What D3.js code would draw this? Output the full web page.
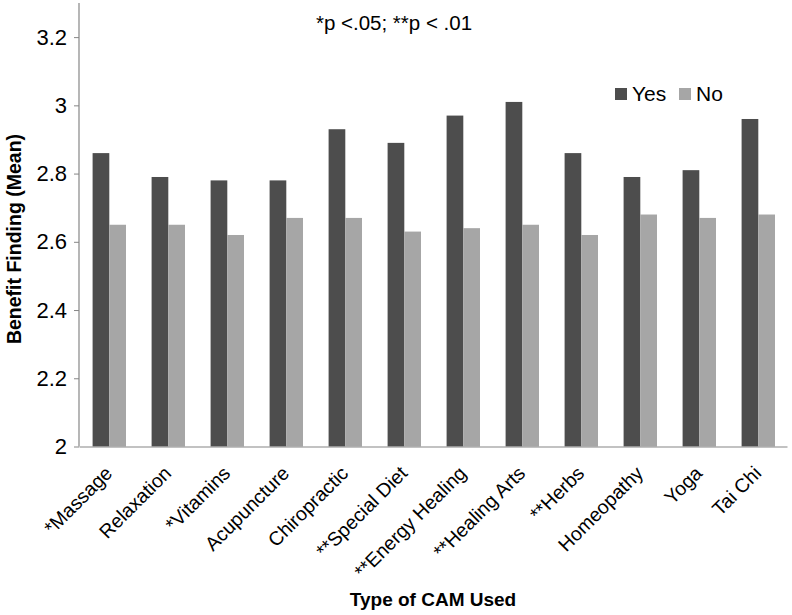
<!DOCTYPE html>
<html>
<head>
<meta charset="utf-8">
<script src="https://cdn.jsdelivr.net/npm/d3@7/dist/d3.min.js"></script>
<style>
  body { margin: 0; background: #fff; }
  svg { display: block; font-family: "Liberation Sans", Arial, sans-serif; }
</style>
</head>
<body>
<svg id="chart" width="792" height="615"></svg>
<script>
const categories = ["*Massage", "Relaxation", "*Vitamins", "Acupuncture", "Chiropractic", "**Special Diet", "**Energy Healing", "**Healing Arts", "**Herbs", "Homeopathy", "Yoga", "Tai Chi"];
const seriesNames = ["Yes", "No"];
const yesValues = [2.86, 2.79, 2.78, 2.78, 2.93, 2.89, 2.97, 3.01, 2.86, 2.79, 2.81, 2.96];
const noValues  = [2.65, 2.65, 2.62, 2.67, 2.67, 2.63, 2.64, 2.65, 2.62, 2.68, 2.67, 2.68];
const yTicks = [2, 2.2, 2.4, 2.6, 2.8, 3, 3.2];
const colors = ["#4d4d4d", "#a6a6a6"];

const svg = d3.select("#chart");
const margin = { left: 79, right: 5, top: 3, bottom: 168.5 };
const W = 792, H = 615;
const x0 = margin.left, x1 = W - margin.right;
const yTop = margin.top, yBot = H - margin.bottom;

const x = d3.scaleBand().domain(categories).range([x0, x1]).paddingInner(0).paddingOuter(0);
const y = d3.scaleLinear().domain([2, 3.3]).range([yBot, yTop]);

const data = categories.map((c, i) => ({ cat: c, values: [yesValues[i], noValues[i]] }));
const barW = x.bandwidth() * 0.283;

const g = svg.append("g");
const groups = g.selectAll("g.cat").data(data).join("g")
  .attr("transform", d => `translate(${x(d.cat) + x.bandwidth() / 2},0)`);
groups.selectAll("rect").data(d => d.values).join("rect")
  .attr("x", (v, j) => (j - 1) * barW + 0.8)
  .attr("width", barW)
  .attr("y", v => y(v))
  .attr("height", v => yBot - y(v))
  .attr("fill", (v, j) => colors[j]);

// Y axis
const yAxis = d3.axisLeft(y).tickValues(yTicks).tickSize(5).tickPadding(7)
  .tickFormat(d => d3.format("")(+d.toFixed(1)));
const ya = svg.append("g").attr("transform", `translate(${x0},0)`).call(yAxis);
ya.select(".domain").attr("stroke", "#868686").attr("stroke-width", 1.2).attr("d", `M-0,${yTop}V${yBot}`);
ya.selectAll(".tick line").attr("stroke", "#868686");
ya.selectAll(".tick text").attr("fill", "#000").style("font-size", "22px")
  .style("font-family", "'Liberation Sans', Arial, sans-serif");

// X axis
const xAxis = d3.axisBottom(x).tickSize(0).tickPadding(0);
const xa = svg.append("g").attr("transform", `translate(0,${yBot})`).call(xAxis);
xa.select(".domain").attr("stroke", "#868686").attr("stroke-width", 1.2);
xa.selectAll(".tick text")
  .attr("fill", "#000")
  .style("font-size", "19.5px")
  .style("font-family", "'Liberation Sans', Arial, sans-serif")
  .attr("text-anchor", "end")
  .attr("dy", 0)
  .attr("y", 0)
  .attr("transform", "translate(5,28) rotate(-45)");

// Axis titles
svg.append("text")
  .attr("transform", `translate(21,${239}) rotate(-90)`)
  .attr("text-anchor", "middle")
  .style("font-size", "19.5px").style("font-weight", "bold")
  .text("Benefit Finding (Mean)");
svg.append("text")
  .attr("x", (x0 + x1) / 2).attr("y", 606)
  .attr("text-anchor", "middle")
  .style("font-size", "19px").style("font-weight", "bold")
  .text("Type of CAM Used");

// Annotation
svg.append("text")
  .attr("x", 394).attr("y", 30)
  .attr("text-anchor", "middle")
  .style("font-size", "20.5px")
  .text("*p <.05; **p < .01");

// Legend
const legend = svg.append("g");
const legendItems = [{ name: seriesNames[0], x: 615, color: colors[0] }, { name: seriesNames[1], x: 679, color: colors[1] }];
legendItems.forEach(it => {
  legend.append("rect").attr("x", it.x).attr("y", 88).attr("width", 12).attr("height", 12).attr("fill", it.color);
  legend.append("text").attr("x", it.x + 17).attr("y", 101).style("font-size", "21px").text(it.name);
});
</script>
</body>
</html>
